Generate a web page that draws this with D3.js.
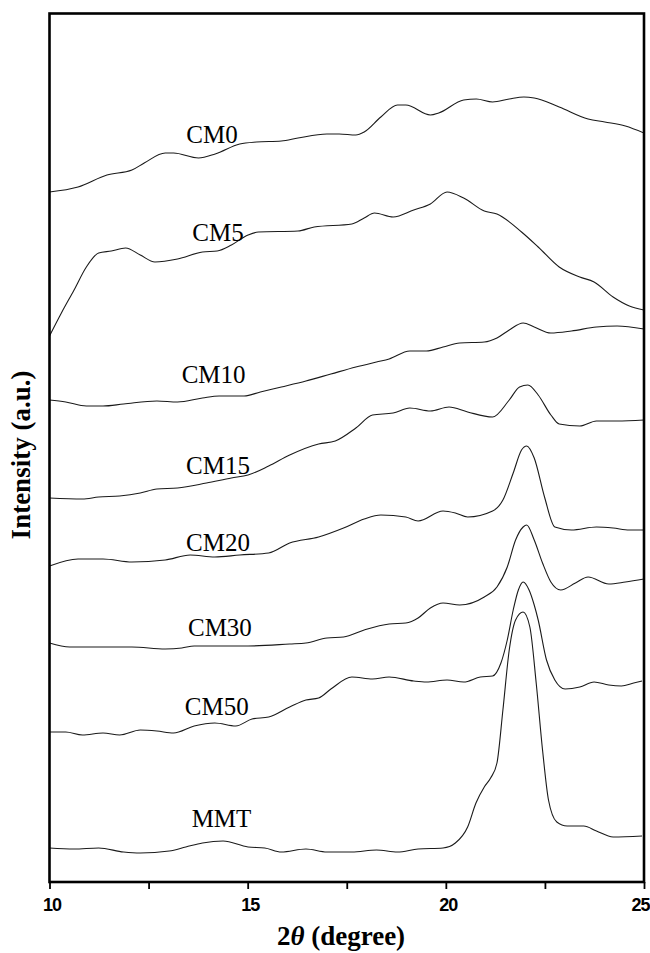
<!DOCTYPE html>
<html>
<head>
<meta charset="utf-8">
<script src="https://cdn.jsdelivr.net/npm/d3@7"></script>
<style>
  body { margin: 0; background: #fff; }
  svg { display: block; }
  .xaxis text { font-family: 'Liberation Sans Narrow', 'Liberation Sans', Arial, sans-serif; font-size: 18px; font-weight: bold; }
</style>
</head>
<body>
<div id="vis"></div>
<script>
// DATA: 2theta (degree), intensity (a.u., curves already stacked)
const cm0 = [[10.00,690],[10.72,695],[11.45,707],[12.08,712],[12.39,719],[12.92,729],[13.13,729],[13.76,724],[14.18,728],[14.80,738],[15.22,740],[15.85,741],[16.27,744],[17.00,748],[17.31,748],[17.73,747],[17.94,750],[18.36,765],[18.78,777],[18.99,777],[19.61,767],[19.82,769],[20.45,782],[20.77,783],[21.18,780],[21.60,783],[21.97,785],[22.23,784],[22.86,775],[23.59,763],[24.01,760],[24.53,756],[25.00,749]];
const cm5 = [[10.00,546],[10.30,569],[10.62,592],[10.93,615],[11.24,629],[11.56,631],[11.92,634],[12.29,627],[12.66,620],[13.23,623],[13.86,630],[14.23,631],[14.59,637],[15.01,647],[15.27,650],[16.27,651],[16.68,655],[17.63,658],[17.94,664],[18.20,669],[18.67,665],[19.19,672],[19.61,678],[20.03,690],[20.45,684],[20.97,671],[21.29,668],[21.91,650],[22.33,635],[22.86,615],[23.38,605],[23.74,600],[24.22,585],[24.63,576],[25.00,572]];
const cm10 = [[10.00,482],[10.41,480],[10.93,476],[11.35,476],[11.87,478],[12.71,481],[13.23,480],[13.86,484],[14.28,486],[14.91,486],[15.32,490],[15.85,495],[16.47,501],[17.10,508],[17.73,515],[18.25,520],[18.57,523],[19.09,531],[19.51,531],[19.93,535],[20.35,539],[20.97,540],[21.29,544],[21.60,552],[21.95,559],[22.23,555],[22.65,549],[23.17,551],[23.80,555],[24.32,556],[25.00,553]];
const cm15 = [[10.00,384],[10.83,383],[11.24,385],[11.77,386],[12.29,389],[12.71,393],[13.23,394],[13.96,399],[14.59,404],[15.01,407],[15.53,416],[16.06,427],[16.79,438],[17.21,441],[17.73,454],[18.15,467],[18.67,469],[19.09,474],[19.61,471],[20.08,475],[20.55,470],[21.18,465],[21.60,482],[21.86,495],[22.07,497],[22.33,487],[22.65,467],[22.86,458],[23.38,456],[23.80,461],[24.32,461],[25.00,462]];
const cm20 = [[10.00,316],[10.72,323],[11.35,323],[12.08,320],[12.92,322],[13.55,327],[14.17,325],[14.80,327],[15.53,329],[16.06,339],[16.79,345],[17.42,354],[17.94,363],[18.36,367],[18.99,365],[19.30,361],[19.93,371],[20.24,369],[20.55,365],[21.18,371],[21.44,382],[21.70,409],[21.91,432],[22.04,436],[22.23,424],[22.49,385],[22.75,355],[23.17,352],[23.80,355],[24.22,354],[24.63,352],[25.00,352]];
const cm30 = [[10.00,239],[10.51,235],[12.08,235],[12.92,233],[13.34,234],[13.65,236],[15.01,236],[16.06,238],[16.47,239],[17.00,244],[17.42,245],[17.94,252],[18.57,258],[18.99,259],[19.30,264],[19.61,274],[19.93,279],[20.35,277],[20.97,285],[21.29,295],[21.55,315],[21.76,342],[21.95,355],[22.04,357],[22.23,342],[22.44,319],[22.65,300],[22.90,292],[23.27,299],[23.59,305],[24.11,298],[24.53,300],[25.00,303]];
const cm50 = [[10.00,150],[10.41,150],[10.83,147],[11.35,149],[11.77,147],[12.29,152],[12.71,151],[13.13,149],[13.65,156],[14.17,159],[14.70,156],[15.11,163],[15.53,165],[16.06,175],[16.47,182],[16.79,184],[17.10,193],[17.63,205],[18.15,203],[18.57,205],[19.19,201],[19.51,200],[20.03,202],[20.45,200],[20.87,205],[21.18,206],[21.39,219],[21.55,242],[21.70,272],[21.83,292],[21.95,300],[22.10,292],[22.23,277],[22.33,262],[22.54,222],[22.75,202],[23.01,193],[23.38,195],[23.74,200],[24.11,197],[24.43,196],[24.74,199],[24.95,201]];
const mmt = [[10.00,34],[10.62,33],[11.24,34],[11.87,30],[12.29,29],[13.02,31],[13.44,35],[13.86,39],[14.38,41],[15.01,35],[15.43,34],[15.85,30],[16.47,33],[17.00,30],[17.63,30],[18.25,32],[18.78,30],[19.30,33],[19.93,34],[20.24,39],[20.55,55],[20.76,79],[20.97,95],[21.13,104],[21.29,119],[21.44,172],[21.60,232],[21.76,262],[21.95,270],[22.12,255],[22.28,199],[22.44,132],[22.59,82],[22.80,60],[23.06,56],[23.48,56],[23.80,51],[24.22,45],[24.95,46]];

const seriesNames = ["CM0", "CM5", "CM10", "CM15", "CM20", "CM30", "CM50", "MMT"];
const seriesData = [cm0, cm5, cm10, cm15, cm20, cm30, cm50, mmt];
// where each name sits (2theta, intensity)
const labelTheta = [14.10, 14.25, 14.14, 14.25, 14.25, 14.30, 14.22, 14.34];
const labelInt = [739, 641, 499, 408, 331, 246, 167, 55];

const majorTicks = [10, 15, 20, 25];
const allTicks = [10, 12.5, 15, 17.5, 20, 22.5, 25];

//CREATE SCALES
const width = 650, height = 953;
const plotLeft = 49.5, plotRight = 644, plotTop = 13.5, plotBottom = 882;

const x = d3.scaleLinear().domain([10, 25]).range([plotLeft, plotRight]);
const y = d3.scaleLinear().domain([0, plotBottom - plotTop]).range([plotBottom, plotTop]);

//DRAW
const svg = d3.select("#vis").append("svg")
  .attr("width", width)
  .attr("height", height);

svg.append("clipPath").attr("id", "plotclip")
  .append("rect")
  .attr("x", plotLeft).attr("y", plotTop)
  .attr("width", plotRight - plotLeft).attr("height", plotBottom - plotTop);

const line = d3.line()
  .x(d => x(d[0]))
  .y(d => y(d[1]))
  .curve(d3.curveMonotoneX);

svg.append("g")
  .attr("clip-path", "url(#plotclip)")
  .selectAll("path")
  .data(seriesData)
  .join("path")
  .attr("d", line)
  .attr("fill", "none")
  .attr("stroke", "#1a1a1a")
  .attr("stroke-width", 1.1);

// curve names
svg.append("g")
  .selectAll("text")
  .data(seriesNames)
  .join("text")
  .attr("x", (d, i) => x(labelTheta[i]))
  .attr("y", (d, i) => y(labelInt[i]))
  .attr("text-anchor", "middle")
  .style("font-family", "'Liberation Serif', 'Times New Roman', serif")
  .style("font-size", "25px")
  .text(d => d);

// bottom axis
const xAxis = d3.axisBottom(x)
  .tickValues(allTicks)
  .tickSize(7)
  .tickFormat(d => majorTicks.includes(d) ? d : "");

const gx = svg.append("g")
  .attr("class", "xaxis")
  .attr("transform", `translate(0,${plotBottom})`)
  .call(xAxis);
gx.select(".domain").remove();
gx.selectAll(".tick line").attr("stroke", "#000").attr("stroke-width", 1.8);
gx.selectAll(".tick text")
  .attr("dx", d => d === 25 ? -1 : 2)
  .attr("text-anchor", d => d === 25 ? "end" : "middle")
  .attr("x", d => d === 25 ? 650 - x(25) : 0)
  .attr("y", 16)
  .attr("dy", "0.71em")
  .attr("letter-spacing", "-1")
  .attr("fill", "#000");

// frame
svg.append("rect")
  .attr("x", plotLeft).attr("y", plotTop)
  .attr("width", plotRight - plotLeft).attr("height", plotBottom - plotTop)
  .attr("fill", "none")
  .attr("stroke", "#000")
  .attr("stroke-width", 2.6);

// axis titles
const xTitle = svg.append("text")
  .attr("x", 341)
  .attr("y", 945)
  .attr("text-anchor", "middle")
  .style("font-family", "'Liberation Serif', 'Times New Roman', serif")
  .style("font-size", "27px")
  .style("font-weight", "bold");
xTitle.append("tspan").text("2");
xTitle.append("tspan").style("font-style", "italic").text("θ");
xTitle.append("tspan").text(" (degree)");

svg.append("text")
  .attr("transform", "translate(30,455) rotate(-90)")
  .attr("text-anchor", "middle")
  .style("font-family", "'Liberation Serif', 'Times New Roman', serif")
  .style("font-size", "27px")
  .style("font-weight", "bold")
  .text("Intensity (a.u.)");
</script>
</body>
</html>
